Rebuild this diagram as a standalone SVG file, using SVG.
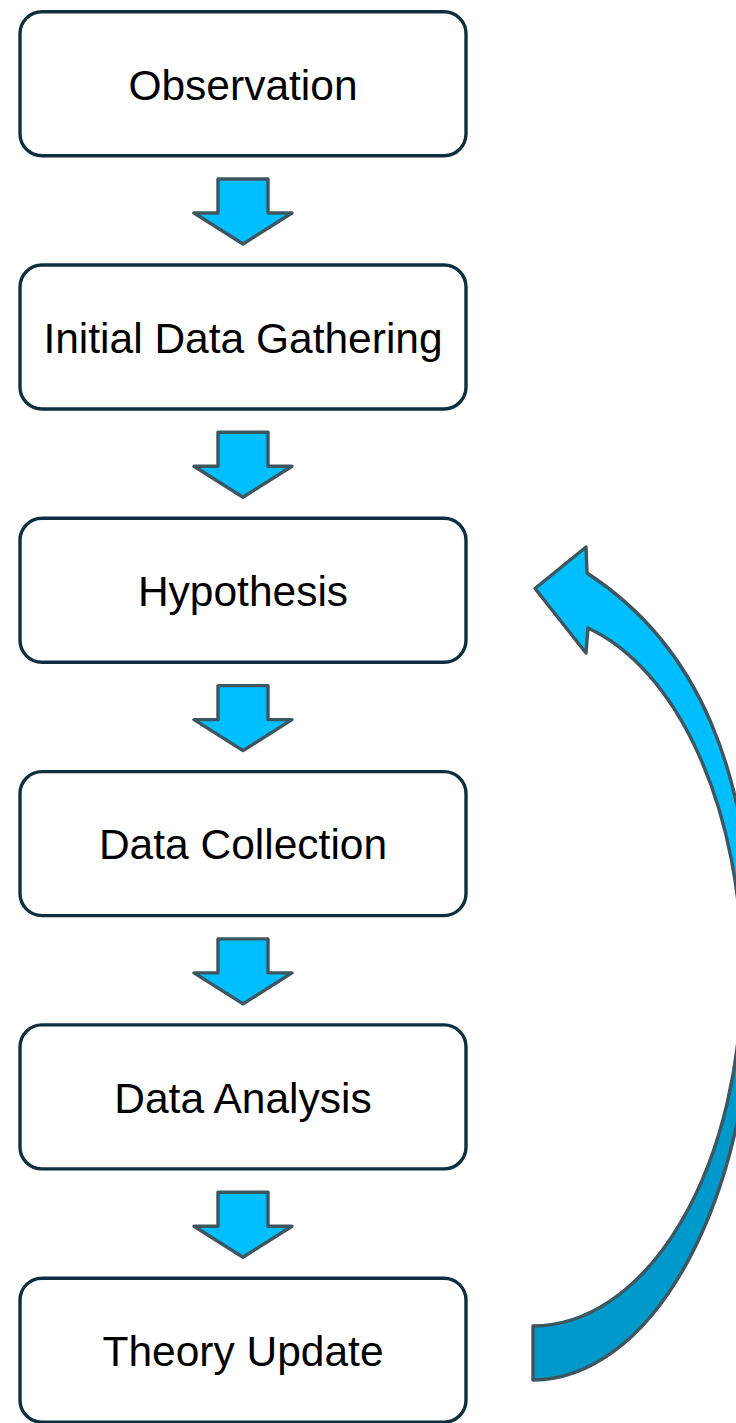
<svg xmlns="http://www.w3.org/2000/svg" width="736" height="1423" viewBox="0 0 736 1423">
<style>
.box{fill:#ffffff;stroke:#0e2f3e;stroke-width:3.4}
.lbl{font-family:"Liberation Sans",Arial,sans-serif;font-size:42.5px;fill:#000000;text-anchor:middle}
.dn{fill:#00bfff;stroke:#3d5660;stroke-width:3.4;stroke-linejoin:round}
.curve{stroke:#3d5660;stroke-width:3.4;stroke-linejoin:round}
</style>
<defs>
<linearGradient id="cg" gradientUnits="userSpaceOnUse" x1="0" y1="0" x2="0" y2="1423">
<stop offset="0" stop-color="#00bfff"/>
<stop offset="0.685" stop-color="#00bfff"/>
<stop offset="0.685" stop-color="#0099cc"/>
<stop offset="1" stop-color="#0099cc"/>
</linearGradient>
<polygon id="darrow" points="218,179 268,179 268,213 292,213 243,244 194,213 218,213"/>
</defs>
<g id="node-observation">
<rect class="box" x="20" y="11.7" width="446" height="144" rx="22"/>
<text class="lbl" x="243" y="99.5">Observation</text>
</g>
<g id="node-initial">
<rect class="box" x="20" y="265" width="446" height="144" rx="22"/>
<text class="lbl" x="243" y="352.8">Initial Data Gathering</text>
</g>
<g id="node-hypothesis">
<rect class="box" x="20" y="518.3" width="446" height="144" rx="22"/>
<text class="lbl" x="243" y="606.1">Hypothesis</text>
</g>
<g id="node-collection">
<rect class="box" x="20" y="771.6" width="446" height="144" rx="22"/>
<text class="lbl" x="243" y="859.4">Data Collection</text>
</g>
<g id="node-analysis">
<rect class="box" x="20" y="1024.9" width="446" height="144" rx="22"/>
<text class="lbl" x="243" y="1112.7">Data Analysis</text>
</g>
<g id="node-theory">
<rect class="box" x="20" y="1278.2" width="446" height="144" rx="22"/>
<text class="lbl" x="243" y="1366">Theory Update</text>
</g>
<g id="connectors">
<use href="#darrow" class="dn"/>
<use href="#darrow" class="dn" transform="translate(0,253.3)"/>
<use href="#darrow" class="dn" transform="translate(0,506.6)"/>
<use href="#darrow" class="dn" transform="translate(0,759.9)"/>
<use href="#darrow" class="dn" transform="translate(0,1013.2)"/>
<path class="curve" fill="url(#cg)" d="M533 1326 A209 354 0 0 0 742 972 A209 356 0 0 0 588 628 L586 653 L535 588.5 L586 547 L587 573 C697 644.5 753 770 753 970 A220 410 0 0 1 533 1380 Z"/>
</g>
</svg>
